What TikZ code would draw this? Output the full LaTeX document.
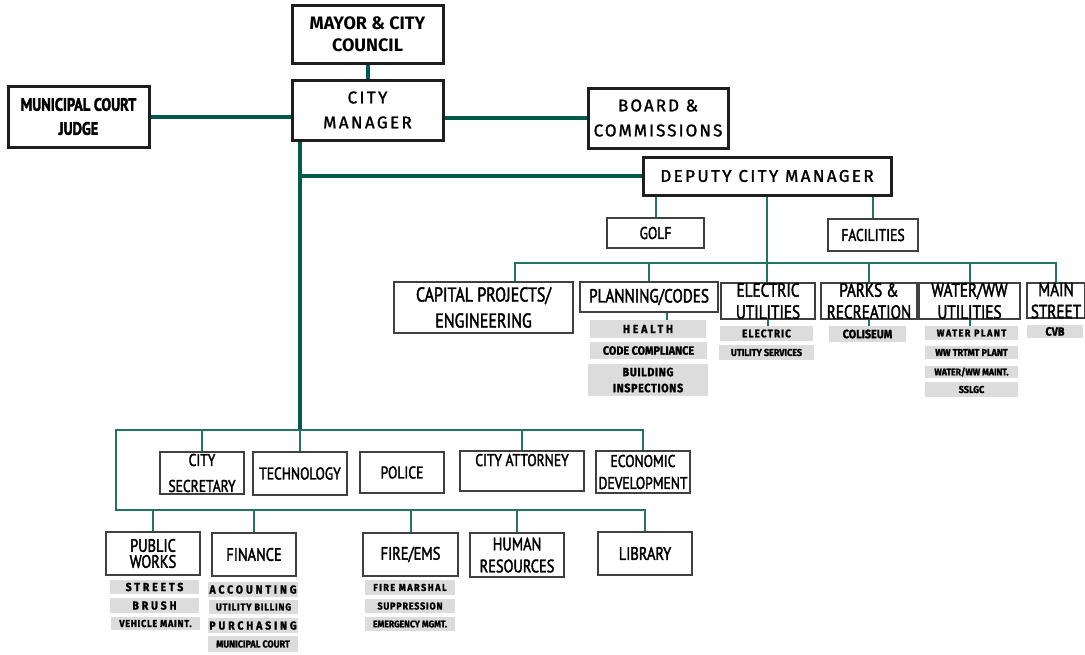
\documentclass[tikz,border=0pt]{standalone}
\usepackage{fontspec}
\setmainfont{Fira Sans}
\newfontfamily\medfont[FakeBold=1.5]{Fira Sans}
\newfontfamily\narrowfont[FakeStretch=0.8, FakeBold=2]{PT Sans}
\newfontfamily\subfont[FakeStretch=0.9, FakeBold=1.5]{Fira Sans}
\definecolor{trunkgreen}{RGB}{0, 89, 74}
\definecolor{linkgreen}{RGB}{35, 115, 100}
\definecolor{subgray}{RGB}{220, 220, 220}
\definecolor{boxline}{RGB}{30, 30, 30}
\usetikzlibrary{calc}

\begin{document}
\begin{tikzpicture}[
  x=0.5pt, y=-0.5pt,
  sz/.style 2 args={minimum width=#1pt, minimum height=#2pt},
  topbox/.style={draw=boxline, line width=1.5pt, fill=white, inner sep=0pt, align=center, font=\bfseries\fontsize{9}{11}\selectfont},
  mgrbox/.style={topbox, font=\medfont\fontsize{8.5}{12.5}\selectfont\addfontfeature{LetterSpace=14}},
  deptbox/.style={draw=boxline!85, line width=1pt, fill=white, inner sep=0pt, align=center, font=\narrowfont\fontsize{9.5}{11}\selectfont},
  subbox/.style={fill=subgray, inner sep=0pt, align=center, font=\subfont\bfseries\fontsize{5.5}{6}\selectfont},
  subwide/.style={subbox, font=\subfont\bfseries\fontsize{5.8}{6}\selectfont\addfontfeature{LetterSpace=25}},
  trunk/.style={trunkgreen, line width=2pt},
  tielink/.style={linkgreen, line width=1pt}
]
  \useasboundingbox (0,0) rectangle (1085,654);

  \node[topbox, sz={75.5}{29}] (mayor) at (367.5,34) {MAYOR \& CITY\\COUNCIL};
  \node[mgrbox, sz={75.5}{30}] (mgr) at (367.5,110) {CITY\\MANAGER};
  \node[topbox, sz={70.5}{30.5}, font=\narrowfont\bfseries\fontsize{9}{12}\selectfont] (judge) at (78.5,116.5) {MUNICIPAL COURT\\JUDGE};
  \node[mgrbox, sz={70}{30}, font=\medfont\fontsize{8.5}{12.5}\selectfont\addfontfeature{LetterSpace=12}] (board) at (658,118) {BOARD \&\\COMMISSIONS};
  \node[mgrbox, sz={124}{19}] (dcm) at (767,176) {DEPUTY CITY MANAGER};
  \node[deptbox, sz={48.5}{15}, font=\narrowfont\fontsize{8.5}{10}\selectfont] (golf) at (655.5,233) {GOLF};
  \node[deptbox, sz={45}{16}, font=\narrowfont\fontsize{8.5}{10}\selectfont] (facil) at (873,235) {FACILITIES};

  \node[deptbox, sz={89.5}{25.5}, font=\narrowfont\fontsize{10}{13}\selectfont] (cap) at (483.5,307.5) {CAPITAL PROJECTS/\\ENGINEERING};
  \node[deptbox, sz={69}{15}] (plan) at (649,297) {PLANNING/CODES};
  \node[deptbox, sz={47}{18}] (elec) at (768,301) {ELECTRIC\\UTILITIES};
  \node[deptbox, sz={48}{18}] (parks) at (869,301) {PARKS \&\\RECREATION};
  \node[deptbox, sz={50.5}{18}] (water) at (969.5,301) {WATER/WW\\UTILITIES};
  \node[deptbox, sz={29}{17.5}] (main) at (1056,300.5) {MAIN\\STREET};

  \node[subwide, sz={58}{9}] (health) at (648,329) {HEALTH};
  \node[subbox, sz={58.5}{8.5}, font=\subfont\bfseries\fontsize{6}{6}\selectfont] (code) at (648.5,350.5) {CODE COMPLIANCE};
  \node[subbox, sz={60}{16}, font=\subfont\bfseries\fontsize{6}{8}\selectfont\addfontfeature{LetterSpace=5}] (bldg) at (648,380) {BUILDING\\INSPECTIONS};
  \node[subbox, sz={46.5}{7.5}, font=\subfont\bfseries\fontsize{5.5}{6}\selectfont\addfontfeature{LetterSpace=10}] (elec1) at (766.5,333.5) {ELECTRIC};
  \node[subbox, sz={47.5}{7.5}, font=\subfont\bfseries\fontsize{5}{6}\selectfont] (elec2) at (766.5,352.5) {UTILITY SERVICES};
  \node[subbox, sz={38.5}{8}, font=\subfont\bfseries\fontsize{6}{6}\selectfont] (coli) at (867.5,334) {COLISEUM};
  \node[subbox, sz={46.5}{7}, font=\subfont\bfseries\fontsize{5}{6}\selectfont\addfontfeature{LetterSpace=15}] (wat1) at (971.5,333) {WATER PLANT};
  \node[subbox, sz={46.5}{6.5}, font=\subfont\bfseries\fontsize{5}{6}\selectfont] (wat2) at (971.5,352.5) {WW TRTMT PLANT};
  \node[subbox, sz={46.5}{6}, font=\subfont\bfseries\fontsize{4.8}{6}\selectfont] (wat3) at (971.5,372) {WATER/WW MAINT.};
  \node[subbox, sz={46.5}{7.5}, font=\subfont\bfseries\fontsize{5}{6}\selectfont] (wat4) at (971.5,389.5) {SSLGC};
  \node[subbox, sz={28}{6.5}, font=\subfont\bfseries\fontsize{6}{6}\selectfont] (cvb) at (1055,331.5) {CVB};

  \node[deptbox, sz={42}{21}, font=\narrowfont\fontsize{8.5}{13}\selectfont] (sec) at (202,473) {CITY\\SECRETARY};
  \node[deptbox, sz={47}{21.5}, font=\narrowfont\fontsize{8.5}{13}\selectfont] (tech) at (300,473.5) {TECHNOLOGY};
  \node[deptbox, sz={42}{20.5}, font=\narrowfont\fontsize{8.5}{13}\selectfont] (police) at (402,472.5) {POLICE};
  \node[deptbox, sz={62}{20}, font=\narrowfont\fontsize{8.5}{11}\selectfont] (atty) at (522,471) {CITY ATTORNEY\\~};
  \node[deptbox, sz={47}{21}, font=\narrowfont\fontsize{8.5}{11}\selectfont] (econ) at (643,472) {ECONOMIC\\DEVELOPMENT};

  \node[deptbox, sz={47}{21.5}, font=\narrowfont\fontsize{9}{8}\selectfont] (pw) at (153,553.5) {PUBLIC\\WORKS};
  \node[deptbox, sz={42}{21.5}, font=\narrowfont\fontsize{9}{11}\selectfont] (fin) at (254,554.5) {FINANCE};
  \node[deptbox, sz={47.5}{21.5}, font=\narrowfont\fontsize{9}{11}\selectfont] (fire) at (410.5,554.5) {FIRE/EMS};
  \node[deptbox, sz={47}{22}, font=\narrowfont\fontsize{9}{11}\selectfont] (hr) at (517,555) {HUMAN\\RESOURCES};
  \node[deptbox, sz={47}{21.5}, font=\narrowfont\fontsize{9}{11}\selectfont] (lib) at (645,553.5) {LIBRARY};

  \node[subwide, sz={44.5}{7}] (streets) at (154.5,587) {STREETS};
  \node[subwide, sz={44.5}{7.5}] (brush) at (154.5,605.5) {BRUSH};
  \node[subbox, sz={44.5}{6.5}, font=\subfont\bfseries\fontsize{5}{6}\selectfont\addfontfeature{LetterSpace=8}] (vehicle) at (155.5,623.5) {VEHICLE MAINT.};
  \node[subwide, sz={45}{7.5}] (acct) at (253,589.5) {ACCOUNTING};
  \node[subbox, sz={44.5}{7}, font=\subfont\bfseries\fontsize{5}{6}\selectfont\addfontfeature{LetterSpace=8}] (billing) at (253.5,607) {UTILITY BILLING};
  \node[subwide, sz={45}{7.5}] (purch) at (253,625.5) {PURCHASING};
  \node[subbox, sz={45}{8}, font=\subfont\bfseries\fontsize{5}{6}\selectfont] (court) at (253,644) {MUNICIPAL COURT};
  \node[subbox, sz={45}{7.5}, font=\subfont\bfseries\fontsize{5}{6}\selectfont\addfontfeature{LetterSpace=15}] (marshal) at (410,587.5) {FIRE MARSHAL};
  \node[subbox, sz={45}{7}, font=\subfont\bfseries\fontsize{5}{6}\selectfont\addfontfeature{LetterSpace=8}] (supp) at (410,606) {SUPPRESSION};
  \node[subbox, sz={45}{7}, font=\subfont\bfseries\fontsize{4.8}{6}\selectfont] (emerg) at (410,624) {EMERGENCY MGMT.};

  \coordinate (t0) at ([xshift=4.5pt]mgr.south west);
  \coordinate (busA) at (116,430);
  \coordinate (busB) at (116,510);
  \coordinate (busC) at (767,263);

  \draw[trunk] (mayor) -- (mgr);
  \draw[trunk] (judge.east) -- (judge.east -| mgr.west);
  \draw[trunk] (board.west) -- (board.west -| mgr.east);
  \draw[trunk] (t0) -- (t0 |- busA);
  \draw[trunk] (dcm.west) -- (dcm.west -| t0);

  \draw[tielink] (golf.north) -- (golf.north |- dcm.south);
  \draw[tielink] (facil.north) -- (facil.north |- dcm.south);
  \draw[tielink] (dcm.south) -- (dcm.south |- elec.north);
  \draw[tielink] ([xshift=15.5pt]cap.north) |- (busC) -| (main.north);
  \foreach \n in {plan, parks, water}
    \draw[tielink] (\n.north) -- (\n.north |- busC);
  \draw[tielink] ([xshift=9pt]plan.south) -- ([xshift=9pt]plan.south |- health.north);
  \foreach \a/\b in {elec/elec1, parks/coli, water/wat1}
    \draw[tielink] (\a.south) -- (\a.south |- \b.north);

  \draw[tielink] (econ.north) |- (busA) -- (busB) -| (lib.north);
  \foreach \n in {sec, tech, atty}
    \draw[tielink] (\n.north) -- (\n.north |- busA);
  \foreach \n in {pw, fin, fire, hr}
    \draw[tielink] (\n.north) -- (\n.north |- busB);
\end{tikzpicture}
\end{document}
